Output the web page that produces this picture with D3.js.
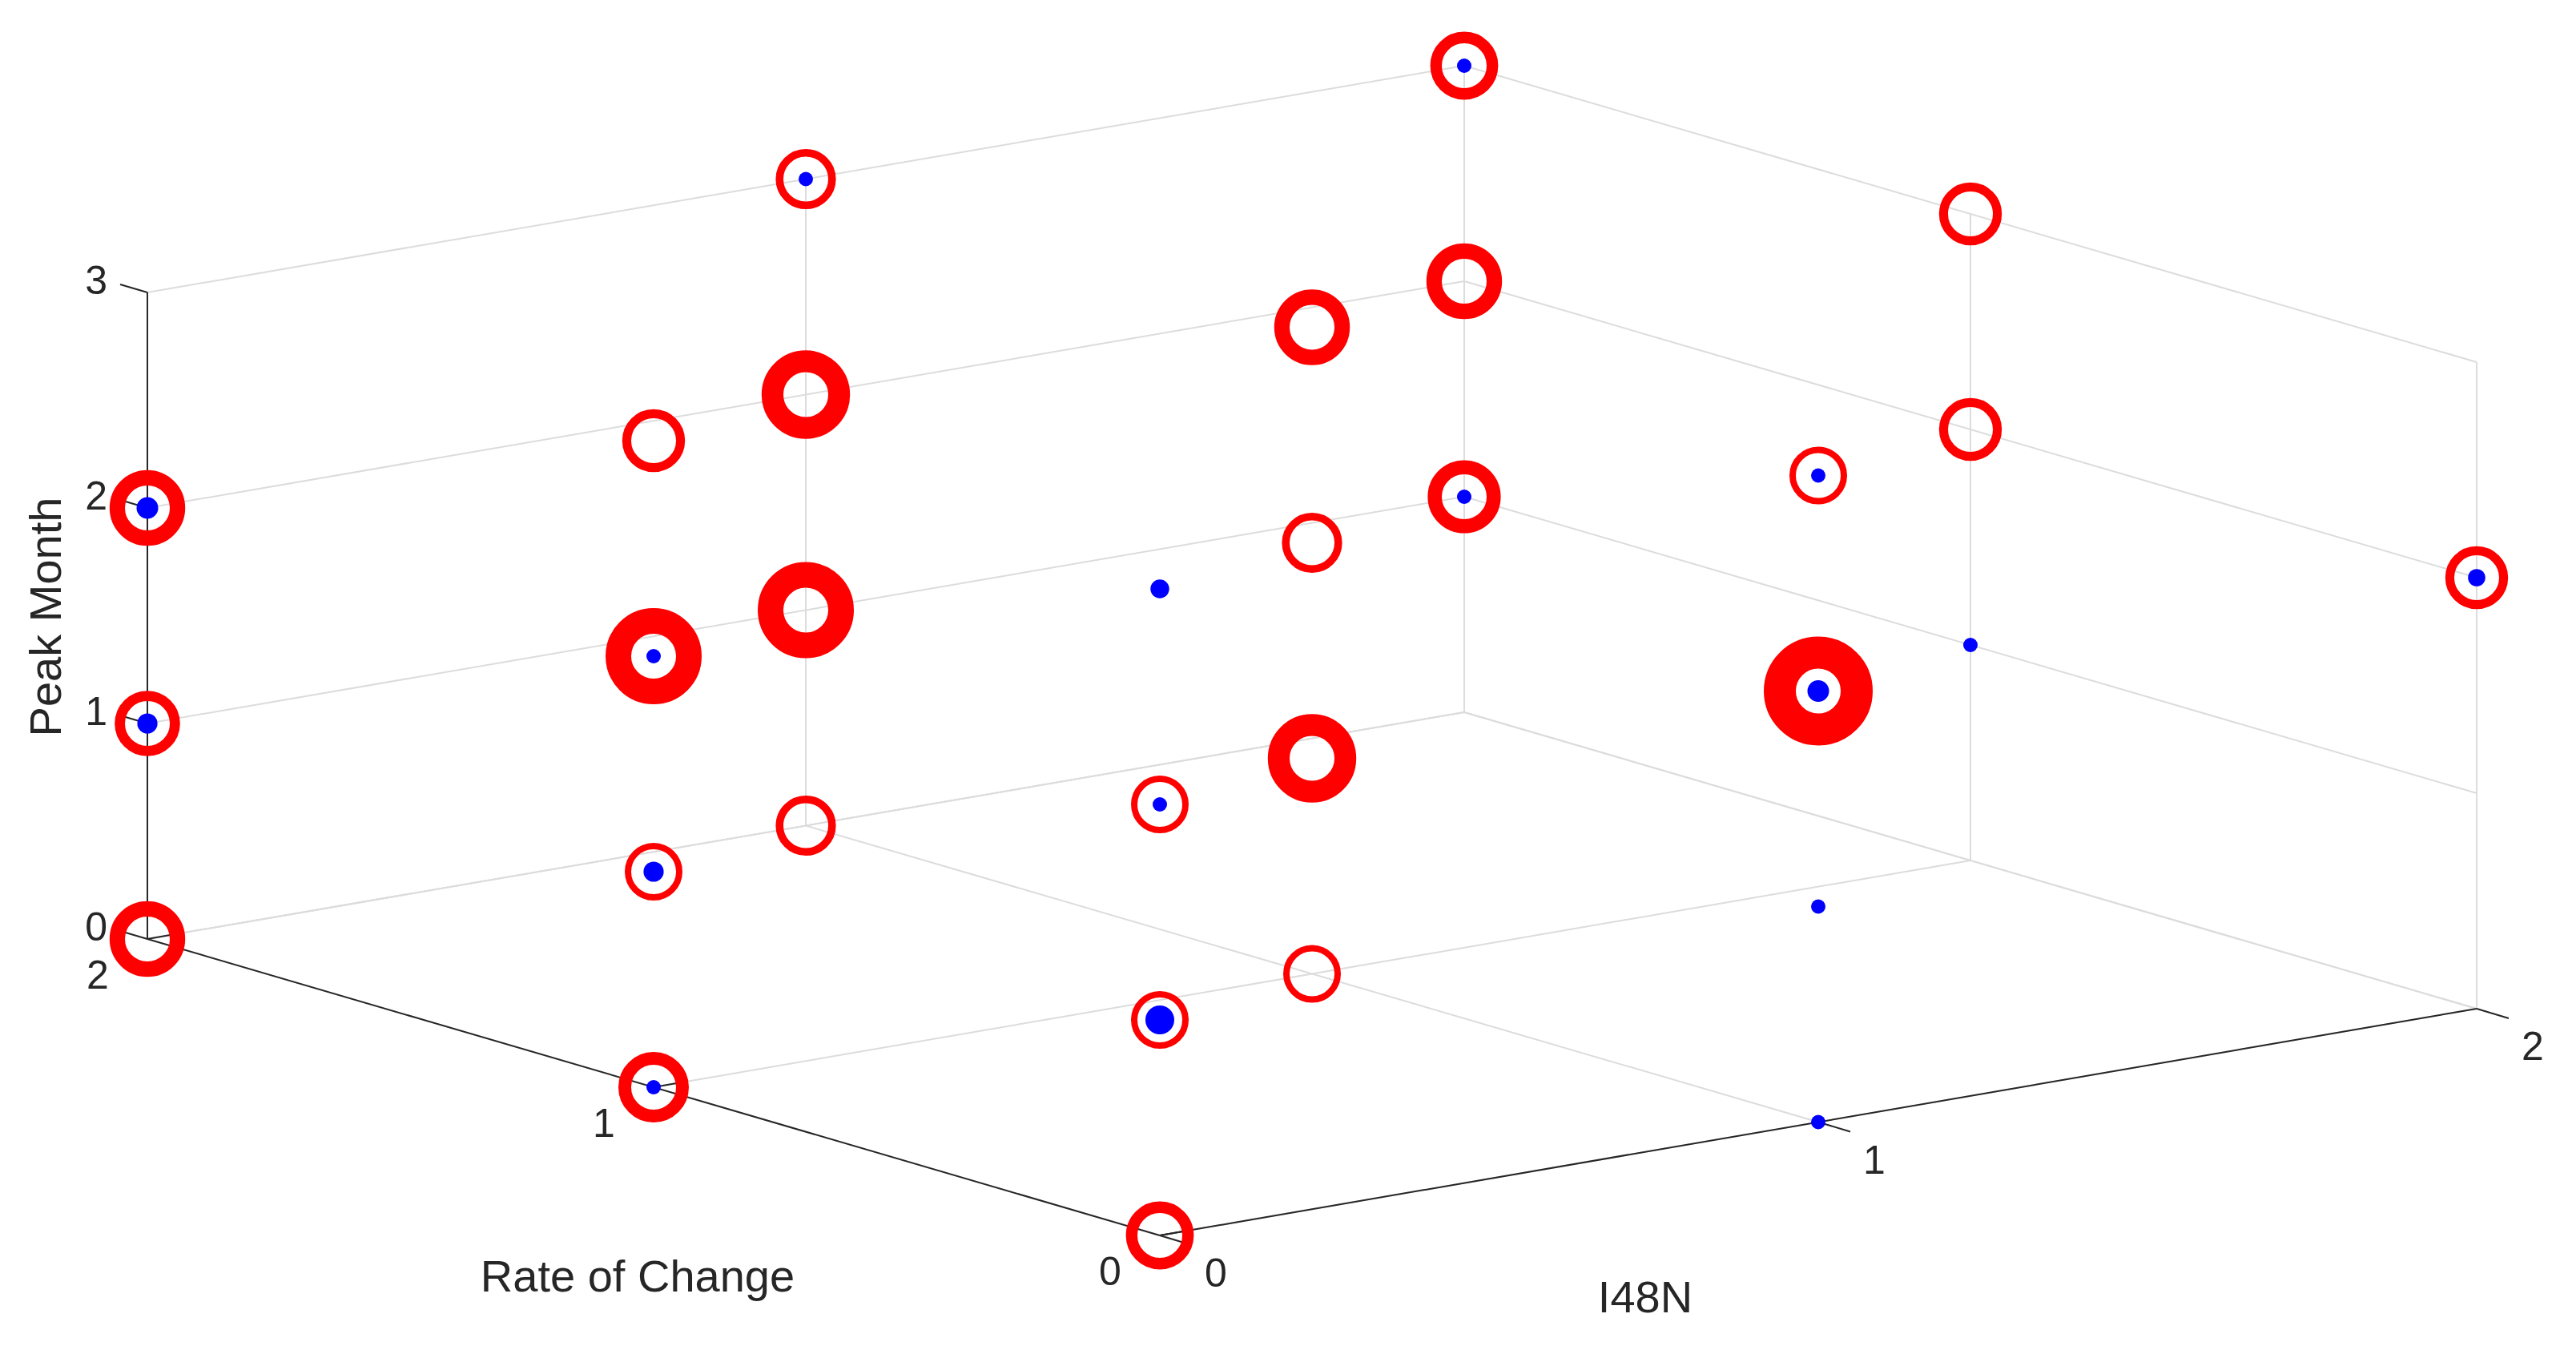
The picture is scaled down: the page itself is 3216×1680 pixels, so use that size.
<!DOCTYPE html>
<html><head><meta charset="utf-8">
<script src="https://cdn.jsdelivr.net/npm/d3@7"></script>
<style>body{margin:0;background:#fff}svg{display:block}text{font-family:"Liberation Sans",Arial,sans-serif;fill:#262626}</style>
</head><body><svg id="c" width="3216" height="1680"></svg>
<script>
// data: [rateOfChange, I48N, peakMonth, ringValue, dotValue]
const rateValues = [0,0,0,0, 1,1,1,1, 2,2,2, 0,0,0,0, 1,1,1,1, 2,2,2,2, 0, 1,1,1, 2,2,2];
const i48nValues = [0,0,0,0, 0,0,0,0, 0,0,0, 1,1,1,1, 1,1,1,1, 1,1,1,1, 2, 2,2,2, 2,2,2];
const peakValues = [0,1,2,3, 0,1,2,3, 0,1,2, 0,1,2,3, 0,1,2,3, 0,1,2,3, 2, 1,2,3, 1,2,3];
const ringValues = [1.8,1,1,0, 2,1,4,1.4, 2.4,1.6,2.4, 0,0,5,1, 1,3.4,1.2,2.4, 1.2,4,3.4,1.2, 1.4, 0,1.4,1.4, 2.2,2.4,1.8];
const dotValues  = [0,2,1,1.3, 1,1.4,1,0, 0,1.4,1.5, 1,1,1.5,1, 0,0,0,0, 0,0,0,1, 1.2, 1,0,0, 1,0,1];
const rateTicks = [0,1,2], i48nTicks = [0,1,2], peakTicks = [0,1,2,3];

const svg = d3.select("#c");
const ox = 1448, oy = 1542;
const iX = d3.scaleLinear().domain([0,2]).range([0,1644]);
const iY = d3.scaleLinear().domain([0,2]).range([0,-283]);
const rX = d3.scaleLinear().domain([0,2]).range([0,-1264]);
const rY = d3.scaleLinear().domain([0,2]).range([0,-370]);
const pY = d3.scaleLinear().domain([0,3]).range([0,-807]);
const P = (r,i,p) => [ox + iX(i) + rX(r), oy + iY(i) + rY(r) + pY(p)];
const ringW = d3.scaleLinear().domain([0,1]).range([0,8]);
const dotR = d3.scaleLinear().domain([0,1]).range([0,9]);

const g = svg.append("g");
function seg(a,b,color,w){ g.append("line").attr("x1",a[0]).attr("y1",a[1]).attr("x2",b[0]).attr("y2",b[1]).attr("stroke",color).attr("stroke-width",w); }
const grid = "#dcdcdc";
rateTicks.forEach(r=>seg(P(r,0,0),P(r,2,0),grid,2));
i48nTicks.forEach(i=>seg(P(0,i,0),P(2,i,0),grid,2));
peakTicks.forEach(p=>seg(P(2,0,p),P(2,2,p),grid,2));
i48nTicks.forEach(i=>seg(P(2,i,0),P(2,i,3),grid,2));
peakTicks.forEach(p=>seg(P(0,2,p),P(2,2,p),grid,2));
rateTicks.forEach(r=>seg(P(r,2,0),P(r,2,3),grid,2));
seg(P(2,0,0),P(2,0,3),"#262626",2);
seg(P(0,0,0),P(2,0,0),"#262626",2);
seg(P(0,0,0),P(0,2,0),"#262626",2);
peakTicks.forEach(p=>{const a=P(2,0,p); seg(a,[a[0]-34,a[1]-10],"#262626",2);
  g.append("text").attr("x",a[0]-50).attr("y",a[1]+2).attr("text-anchor","end").attr("font-size",50).text(p);});
rateTicks.forEach(r=>{const a=P(r,0,0); seg(a,[a[0]+40,a[1]-7],"#262626",2);
  g.append("text").attr("x",a[0]-62).attr("y",a[1]+62).attr("text-anchor","middle").attr("font-size",50).text(r);});
i48nTicks.forEach(i=>{const a=P(0,i,0); seg(a,[a[0]+40,a[1]+12],"#262626",2);
  g.append("text").attr("x",a[0]+70).attr("y",a[1]+64).attr("text-anchor","middle").attr("font-size",50).text(i);});
g.append("text").attr("x",796).attr("y",1612).attr("text-anchor","middle").attr("font-size",56).text("Rate of Change");
g.append("text").attr("x",2054).attr("y",1638).attr("text-anchor","middle").attr("font-size",56).text("I48N");
g.append("text").attr("transform","translate(76,770) rotate(-90)").attr("text-anchor","middle").attr("font-size",56).text("Peak Month");

const pts = rateValues.map((r,k)=>({r, i:i48nValues[k], p:peakValues[k], ring:ringValues[k], dot:dotValues[k]}));
g.selectAll("circle.ring").data(pts.filter(d=>d.ring>0)).join("circle").attr("class","ring")
  .attr("cx",d=>P(d.r,d.i,d.p)[0]).attr("cy",d=>P(d.r,d.i,d.p)[1])
  .attr("r",d=>28+ringW(d.ring)/2).attr("fill","none").attr("stroke","#ff0000").attr("stroke-width",d=>ringW(d.ring));
g.selectAll("circle.dot").data(pts.filter(d=>d.dot>0)).join("circle").attr("class","dot")
  .attr("cx",d=>P(d.r,d.i,d.p)[0]).attr("cy",d=>P(d.r,d.i,d.p)[1])
  .attr("r",d=>dotR(d.dot)).attr("fill","#0000ff");
</script></body></html>
